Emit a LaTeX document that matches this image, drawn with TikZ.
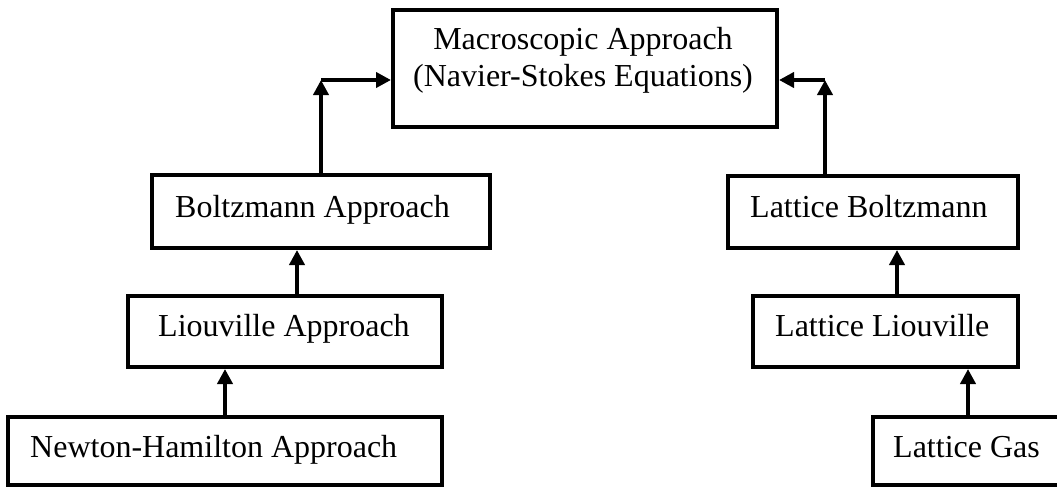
\documentclass[tikz,border=0pt]{standalone}
\usepackage{fontspec}
\setmainfont{Liberation Serif}
\usetikzlibrary{arrows.meta}
\tikzset{
  boxnode/.style={draw, line width=4pt, rectangle, inner sep=0pt, anchor=center},
  txt/.style={inner sep=0pt, anchor=base west, font=\fontsize{32}{37}\selectfont},
  arr/.style={line width=4pt, -{Triangle[length=15pt,width=15pt]}},
}
\begin{document}
\begin{tikzpicture}[x=1pt,y=-1pt]
\useasboundingbox (0,0) rectangle (1057,487);
\clip (0,0) rectangle (1057,487);
% boxes
\node[boxnode, minimum width=384pt, minimum height=117pt] (M) at (585,68.5) {};
\node[boxnode, minimum width=338pt, minimum height=73pt] (B) at (321,211.5) {};
\node[boxnode, minimum width=314pt, minimum height=71pt] (L) at (285,331.5) {};
\node[boxnode, minimum width=434pt, minimum height=68pt] (N) at (225,451) {};
\node[boxnode, minimum width=290pt, minimum height=72pt] (LB) at (873,212) {};
\node[boxnode, minimum width=265pt, minimum height=71pt] (LL) at (885.5,331.5) {};
\node[boxnode, minimum width=202pt, minimum height=68pt] (LG) at (974,451) {};
% texts
\node[inner sep=0pt, anchor=north, align=center, font=\fontsize{32}{37}\selectfont] (tM) at (583,27)
  {Macroscopic Approach\\(Navier-Stokes Equations)};
\node[txt] (tB) at (175,217) {Boltzmann Approach};
\node[txt] (tL) at (158,336) {Liouville Approach};
\node[txt] (tN) at (30,457) {Newton-Hamilton Approach};
\node[txt] (tLB) at (750,217) {Lattice Boltzmann};
\node[txt] (tLL) at (775,336) {Lattice Liouville};
\node[txt] (tLG) at (893,457) {Lattice Gas};
% corners
\coordinate (cl) at (321,80);
\coordinate (cr) at (825,80);
% connectors
\draw[arr] (N.north -| 225,0) -- (L.south -| 225,0);
\draw[arr] (L.north -| 297,0) -- (B.south -| 297,0);
\draw[arr] (B.north -| cl) -- (cl);
\draw[arr] (cl) -- (cl -| M.west);
\draw[arr] (LG.north -| 968,0) -- (LL.south -| 968,0);
\draw[arr] (LL.north -| 897,0) -- (LB.south -| 897,0);
\draw[arr] (LB.north -| cr) -- (cr);
\draw[arr] (cr) -- (cr -| M.east);
\end{tikzpicture}
\end{document}
